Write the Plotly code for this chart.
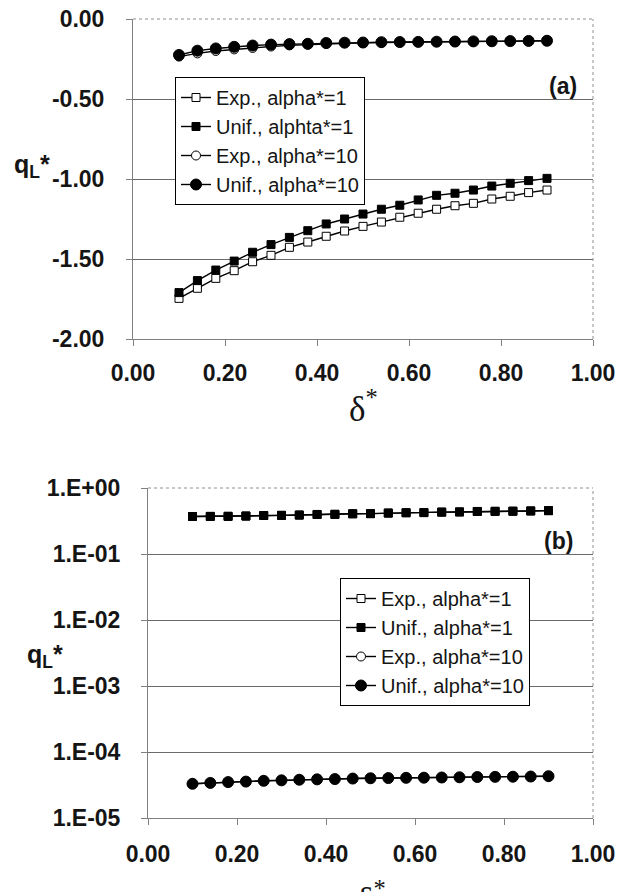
import plotly.graph_objects as go

# ---------------- data ----------------
delta = [0.10, 0.14, 0.18, 0.22, 0.26, 0.30, 0.34, 0.38, 0.42, 0.46, 0.50,
         0.54, 0.58, 0.62, 0.66, 0.70, 0.74, 0.78, 0.82, 0.86, 0.90]

# panel (a)
a_exp_a1 = [-1.746, -1.683, -1.621, -1.573, -1.517, -1.477, -1.427, -1.394, -1.358, -1.325, -1.296,
            -1.269, -1.239, -1.214, -1.189, -1.167, -1.152, -1.125, -1.108, -1.085, -1.069]
a_unif_a1 = [-1.710, -1.635, -1.569, -1.513, -1.458, -1.410, -1.365, -1.323, -1.281, -1.250, -1.219,
             -1.189, -1.164, -1.131, -1.102, -1.089, -1.069, -1.044, -1.027, -1.010, -0.996]
a_exp_a10 = [-0.235, -0.215, -0.200, -0.190, -0.181, -0.172, -0.165, -0.160, -0.155, -0.151, -0.149,
             -0.147, -0.145, -0.144, -0.143, -0.142, -0.141, -0.140, -0.139, -0.138, -0.137]
a_unif_a10 = [-0.225, -0.198, -0.184, -0.174, -0.166, -0.160, -0.157, -0.155, -0.150, -0.148, -0.147,
              -0.145, -0.144, -0.143, -0.142, -0.141, -0.140, -0.139, -0.138, -0.137, -0.136]

# panel (b)
b_exp_a1 = [0.370, 0.371, 0.372, 0.376, 0.383, 0.385, 0.389, 0.397, 0.399, 0.407, 0.409,
            0.417, 0.422, 0.424, 0.431, 0.434, 0.441, 0.443, 0.445, 0.449, 0.454]
b_unif_a1 = [0.370, 0.371, 0.372, 0.376, 0.383, 0.385, 0.389, 0.397, 0.399, 0.407, 0.409,
             0.417, 0.422, 0.424, 0.431, 0.434, 0.441, 0.443, 0.445, 0.449, 0.454]
b_exp_a10 = [3.30e-5, 3.40e-5, 3.50e-5, 3.56e-5, 3.66e-5, 3.72e-5, 3.80e-5, 3.85e-5, 3.89e-5, 3.96e-5, 4.00e-5,
             4.03e-5, 4.06e-5, 4.08e-5, 4.11e-5, 4.14e-5, 4.18e-5, 4.20e-5, 4.22e-5, 4.25e-5, 4.30e-5]
b_unif_a10 = [3.30e-5, 3.40e-5, 3.50e-5, 3.56e-5, 3.66e-5, 3.72e-5, 3.80e-5, 3.85e-5, 3.89e-5, 3.96e-5, 4.00e-5,
              4.03e-5, 4.06e-5, 4.08e-5, 4.11e-5, 4.14e-5, 4.18e-5, 4.20e-5, 4.22e-5, 4.25e-5, 4.30e-5]

names_a = ["Exp., alpha*=1", "Unif., alphta*=1", "Exp., alpha*=10", "Unif., alpha*=10"]
names_b = ["Exp., alpha*=1", "Unif., alpha*=1", "Exp., alpha*=10", "Unif., alpha*=10"]

x_ticks = [0.0, 0.2, 0.4, 0.6, 0.8, 1.0]
a_yticks = [-2.0, -1.5, -1.0, -0.5, 0.0]
a_yticktext = ["-2.00", "-1.50", "-1.00", "-0.50", "0.00"]
b_yticks = [1e-5, 1e-4, 1e-3, 1e-2, 1e-1, 1e0]
b_yticktext = ["1.E-05", "1.E-04", "1.E-03", "1.E-02", "1.E-01", "1.E+00"]

# ---------------- figure ----------------
W, H = 626, 892
FONT = "Liberation Sans"
INK = "#151515"

def px_x(p):
    return p / W

def px_y(p):
    return 1 - p / H

styles = [
    dict(symbol="square", size=8, color="white", line=dict(color="black", width=1)),
    dict(symbol="square", size=8, color="black", line=dict(color="black", width=1)),
    dict(symbol="circle", size=9, color="white", line=dict(color="black", width=1)),
    dict(symbol="circle", size=11, color="black", line=dict(color="black", width=1)),
]

fig = go.Figure()

for i, (ys, nm) in enumerate(zip([a_exp_a1, a_unif_a1, a_exp_a10, a_unif_a10], names_a)):
    fig.add_trace(go.Scatter(x=delta, y=ys, name=nm, mode="lines+markers",
                             line=dict(color="black", width=1.4), marker=styles[i],
                             xaxis="x", yaxis="y", legend="legend", legendgroup="a%d" % i))

for i, (ys, nm) in enumerate(zip([b_exp_a1, b_unif_a1, b_exp_a10, b_unif_a10], names_b)):
    fig.add_trace(go.Scatter(x=delta, y=ys, name=nm, mode="lines+markers",
                             line=dict(color="black", width=1.4), marker=styles[i],
                             xaxis="x2", yaxis="y2", legend="legend2", legendgroup="b%d" % i))

tickfont = dict(family=FONT, size=23, color=INK, weight="bold")
axis_common = dict(showline=True, linecolor="#808080", linewidth=1, ticks="outside",
                   ticklen=6, tickcolor="#808080", automargin=False, zeroline=False,
                   tickfont=tickfont)

# domains (pixels -> paper)
a_x = [px_x(133), px_x(593)]
a_y = [px_y(339), px_y(19)]
b_x = [px_x(148), px_x(593)]
b_y = [px_y(818), px_y(488)]

legend_font = dict(family=FONT, size=20, color=INK)

fig.update_layout(
    width=W, height=H, margin=dict(l=0, r=0, t=0, b=0),
    paper_bgcolor="white", plot_bgcolor="white", template=None,
    xaxis=dict(domain=a_x, anchor="y", range=[0, 1], tickvals=x_ticks, tickformat=".2f",
               showgrid=False, ticklabelstandoff=7, **axis_common),
    yaxis=dict(domain=a_y, anchor="x", range=[-2, 0], tickvals=a_yticks, ticktext=a_yticktext,
               showgrid=True, gridcolor="#6a6a6a", gridwidth=1.2, ticklabelstandoff=17,
               **axis_common),
    xaxis2=dict(domain=b_x, anchor="y2", range=[0, 1], tickvals=x_ticks, tickformat=".2f",
                showgrid=False, ticklabelstandoff=9, **axis_common),
    yaxis2=dict(domain=b_y, anchor="x2", type="log", range=[-5, 0], tickvals=b_yticks,
                ticktext=b_yticktext, showgrid=True, gridcolor="#6a6a6a", gridwidth=1.2,
                ticklabelstandoff=16, **axis_common),
    legend=dict(x=px_x(175), y=px_y(77), xanchor="left", yanchor="top",
                bordercolor="black", borderwidth=1, bgcolor="white",
                font=legend_font, tracegroupgap=0, itemwidth=30),
    legend2=dict(x=px_x(340), y=px_y(578), xanchor="left", yanchor="top",
                 bordercolor="black", borderwidth=1, bgcolor="white",
                 font=legend_font, tracegroupgap=0, itemwidth=30),
    showlegend=True,
)

# dotted plot-area border (top & right)
for (xd, yd) in [(a_x, a_y), (b_x, b_y)]:
    fig.add_shape(type="line", xref="paper", yref="paper", x0=xd[0], x1=xd[1], y0=yd[1], y1=yd[1],
                  line=dict(color="#909090", width=1, dash="dot"))
    fig.add_shape(type="line", xref="paper", yref="paper", x0=xd[1], x1=xd[1], y0=yd[0], y1=yd[1],
                  line=dict(color="#909090", width=1, dash="dot"))

ann_font_b = dict(family=FONT, size=23, color=INK, weight="bold")
fig.add_annotation(text="(a)", x=px_x(563), y=px_y(86), xref="paper", yref="paper",
                   showarrow=False, font=ann_font_b, xanchor="center", yanchor="middle")
fig.add_annotation(text="(b)", x=px_x(558), y=px_y(541), xref="paper", yref="paper",
                   showarrow=False, font=ann_font_b, xanchor="center", yanchor="middle")

qfont = dict(family=FONT, size=25, color=INK, weight="bold")
fig.add_annotation(text="q<sub>L</sub>*", x=px_x(32), y=px_y(166), xref="paper", yref="paper",
                   showarrow=False, font=qfont, xanchor="center", yanchor="middle")
fig.add_annotation(text="q<sub>L</sub>*", x=px_x(45), y=px_y(656), xref="paper", yref="paper",
                   showarrow=False, font=qfont, xanchor="center", yanchor="middle")

dfont = dict(family="Liberation Serif", size=35, color=INK)
fig.add_annotation(text="δ<sup>*</sup>", x=px_x(363), y=px_y(407), xref="paper", yref="paper",
                   showarrow=False, font=dfont, xanchor="center", yanchor="middle")
fig.add_annotation(text="δ<sup>*</sup>", x=px_x(372), y=px_y(897), xref="paper", yref="paper",
                   showarrow=False, font=dfont, xanchor="center", yanchor="middle")

fig.write_html("out.html", config={"displayModeBar": False},
               post_script="document.body.style.margin='0px';")
